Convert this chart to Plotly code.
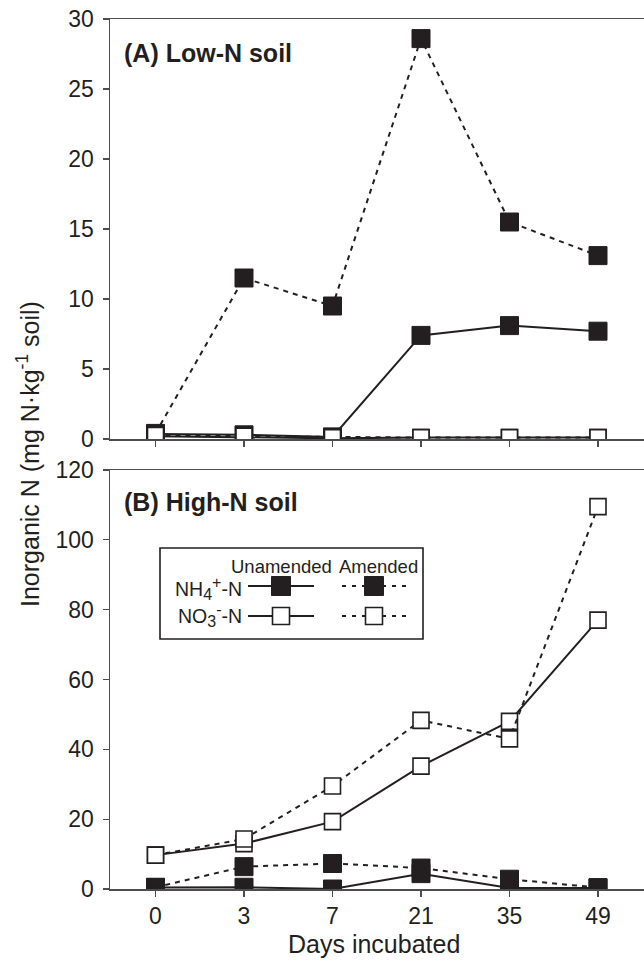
import plotly.graph_objects as go

# ---------------- data ----------------
days = ["0", "3", "7", "21", "35", "49"]

# (A) Low-N soil
a_nh4_unamended = [0.35, 0.3, 0.15, 7.4, 8.1, 7.7]
a_nh4_amended = [0.4, 11.5, 9.5, 28.6, 15.5, 13.1]
a_no3_unamended = [0.2, 0.15, 0.05, 0.1, 0.1, 0.1]
a_no3_amended = [0.25, 0.2, 0.1, 0.1, 0.1, 0.1]

# (B) High-N soil
b_nh4_unamended = [0.4, 0.5, 0.0, 4.4, 0.3, 0.3]
b_nh4_amended = [0.5, 6.4, 7.3, 6.0, 2.8, 0.4]
b_no3_unamended = [9.7, 13.0, 19.3, 35.2, 48.0, 77.0]
b_no3_amended = [9.7, 14.3, 29.5, 48.3, 43.0, 109.5]

top_ticks = [0, 5, 10, 15, 20, 25, 30]
bottom_ticks = [0, 20, 40, 60, 80, 100, 120]

# ---------------- styling ----------------
INK = "#231f20"
AXC = "#4d4d4d"
FONT = "Liberation Sans, Arial, Helvetica, sans-serif"
DASH = "5px,5px"

W, H = 644, 963
L, R, T, B = 110, 644, 19, 889  # plot area in pixels
PW, PH = R - L, B - T


def px(x):
    return (x - L) / PW


def py(y):
    return (B - y) / PH


fig = go.Figure()


def add_series(xa, ya, vals, filled, dashed):
    fig.add_trace(go.Scatter(
        x=days, y=vals, xaxis=xa, yaxis=ya, mode="lines+markers",
        line=dict(color=INK, width=2, dash=DASH if dashed else "solid"),
        marker=dict(symbol="square", size=18 if filled else 16,
                    color=INK if filled else "white",
                    line=dict(color=INK, width=1 if filled else 1.6)),
        showlegend=False, hoverinfo="skip"))


# top panel (A)
add_series("x", "y", a_nh4_unamended, True, False)
add_series("x", "y", a_nh4_amended, True, True)
add_series("x", "y", a_no3_unamended, False, False)
add_series("x", "y", a_no3_amended, False, True)
# bottom panel (B)
add_series("x2", "y2", b_nh4_unamended, True, False)
add_series("x2", "y2", b_nh4_amended, True, True)
add_series("x2", "y2", b_no3_unamended, False, False)
add_series("x2", "y2", b_no3_amended, False, True)

xrange = [(L - 155.5) / 88.5, (R - 155.5) / 88.5]
common_x = dict(type="category", categoryorder="array", categoryarray=days,
                range=xrange, showline=True, linecolor=AXC, linewidth=1.5,
                mirror=True, ticks="outside", ticklen=6, tickwidth=1.3,
                tickcolor=AXC, showgrid=False, zeroline=False,
                tickfont=dict(family=FONT, size=23, color=INK))
common_y = dict(showline=True, linecolor=AXC, linewidth=1.5, ticks="outside",
                ticklen=6, tickwidth=1.3, tickcolor=AXC, showgrid=False,
                zeroline=False, ticklabelstandoff=4,
                tickfont=dict(family=FONT, size=23, color=INK))

top_dom = [py(439), 1]
bot_dom = [0, py(470)]

fig.update_layout(
    width=W, height=H,
    margin=dict(l=L, r=W - R, t=T, b=H - B),
    paper_bgcolor="white", plot_bgcolor="white",
    xaxis=dict(**common_x, anchor="y", domain=[0, 1], showticklabels=False),
    yaxis=dict(**common_y, anchor="x", domain=top_dom, range=[0, 30],
               tickvals=top_ticks),
    xaxis2=dict(**common_x, anchor="y2", domain=[0, 1]),
    yaxis2=dict(**common_y, anchor="x2", domain=bot_dom, range=[0, 120],
                tickvals=bottom_ticks),
    font=dict(family=FONT, color=INK),
)

ann = []
ann.append(dict(text="<b>(A) Low-N soil</b>", x=px(122), y=py(53),
                xanchor="left", yanchor="middle", font=dict(size=25)))
ann.append(dict(text="<b>(B) High-N soil</b>", x=px(122), y=py(502),
                xanchor="left", yanchor="middle", font=dict(size=25)))
ann.append(dict(text="Days incubated", x=px(374), y=py(944),
                xanchor="center", yanchor="middle", font=dict(size=25)))
ann.append(dict(text="Inorganic N (mg N·kg<sup>-1</sup> soil)", x=px(28),
                y=py(454), textangle=-90, xanchor="center", yanchor="middle",
                font=dict(size=25)))

# ----- custom legend (grid of sample keys) -----
ann.append(dict(text="Unamended", x=px(281), y=py(566), xanchor="center",
                yanchor="middle", font=dict(size=18.5)))
ann.append(dict(text="Amended", x=px(378), y=py(566), xanchor="center",
                yanchor="middle", font=dict(size=18.5)))
SUBSZ = "font-size:16px"
ann.append(dict(text=f"NH<sub><span style='{SUBSZ}'>4</span></sub>"
                     f"<sup><span style='{SUBSZ}'>+</span></sup>-N",
                x=px(244), y=py(588), xanchor="right", yanchor="middle",
                font=dict(size=19.5)))
ann.append(dict(text=f"NO<sub><span style='{SUBSZ}'>3</span></sub>"
                     f"<sup><span style='{SUBSZ}'>-</span></sup>-N",
                x=px(244), y=py(616), xanchor="right", yanchor="middle",
                font=dict(size=19.5)))
for a in ann:
    a.update(xref="paper", yref="paper", showarrow=False)
    a["font"] = dict(family=FONT, color=INK, **a["font"])

shapes = []
shapes.append(dict(type="rect", x0=px(160), x1=px(423), y0=py(639),
                   y1=py(548), line=dict(color=INK, width=1.6)))
for yy, filled in [(586, True), (616, False)]:
    for xs, xe, xc, dash in [(248, 314, 281, "solid"), (342, 407, 374, "4px,6px")]:
        shapes.append(dict(type="line", x0=px(xs), x1=px(xe), y0=py(yy),
                           y1=py(yy), line=dict(color=INK, width=2, dash=dash)))
        s = 9.5 if filled else 8.5
        shapes.append(dict(type="rect", x0=px(xc - s), x1=px(xc + s),
                           y0=py(yy + s), y1=py(yy - s),
                           fillcolor=INK if filled else "white",
                           line=dict(color=INK, width=1 if filled else 1.6)))
for s in shapes:
    s.update(xref="paper", yref="paper")

fig.update_layout(annotations=ann, shapes=shapes)

fig.write_html("out.html",
               config={"displayModeBar": False, "staticPlot": True},
               post_script="document.body.style.margin='0';"
                           "document.body.style.overflow='hidden';")
